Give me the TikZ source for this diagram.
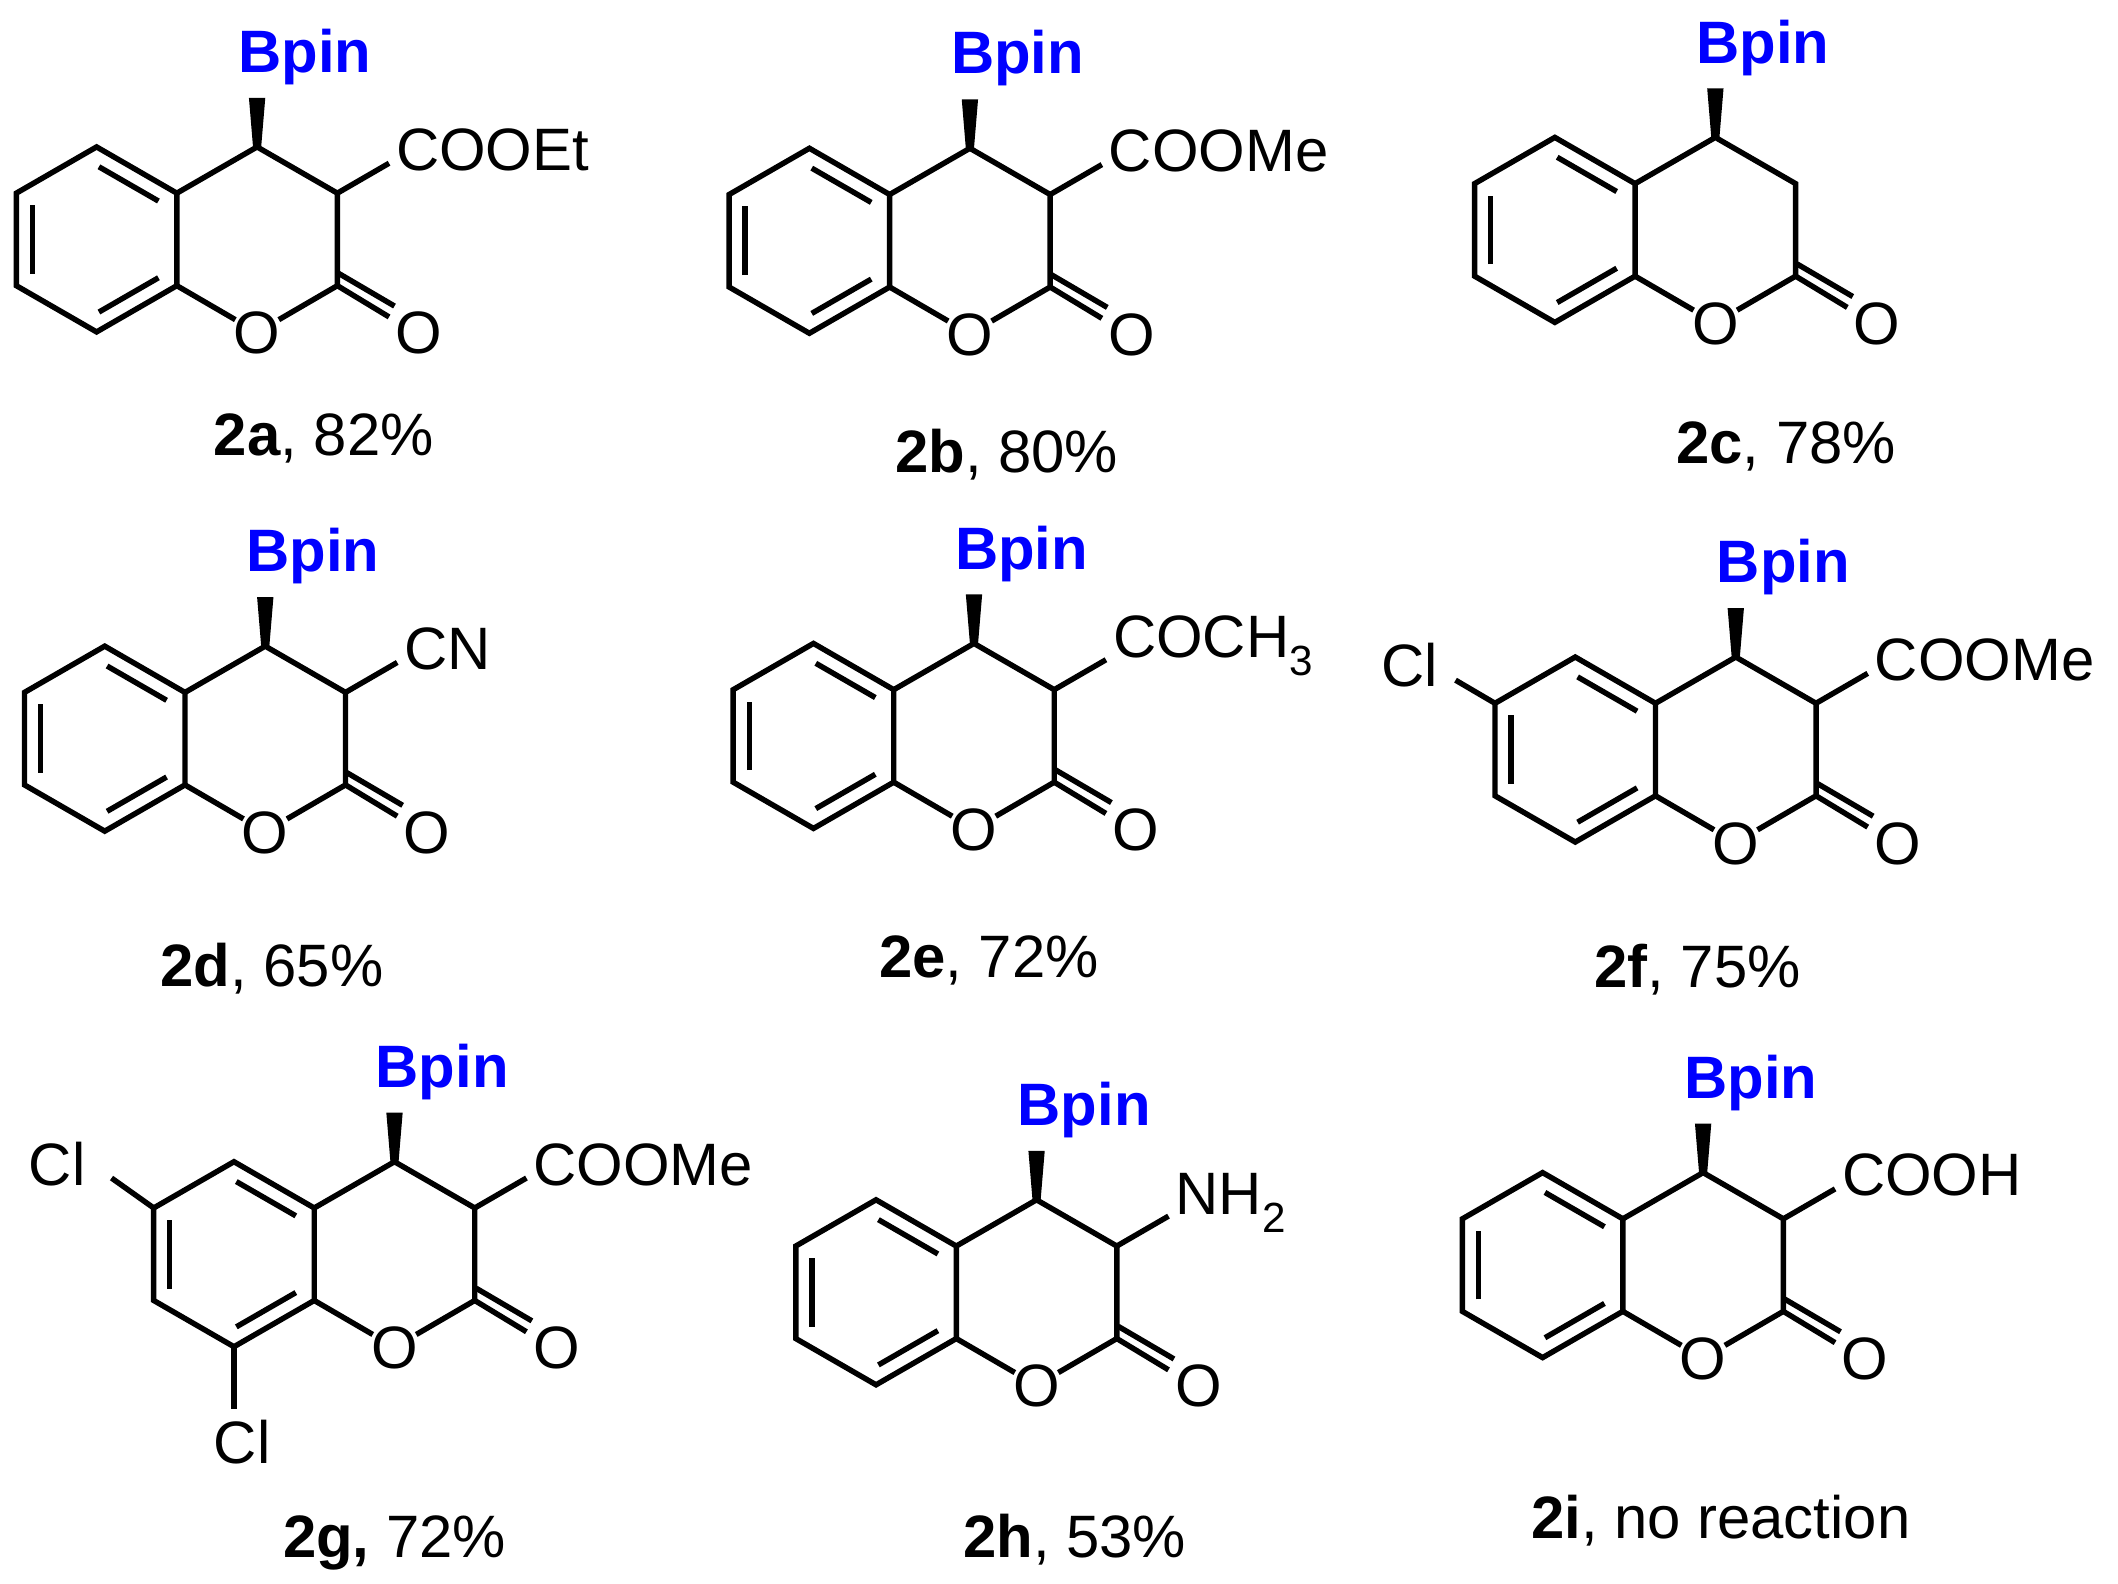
\documentclass[tikz,border=0pt]{standalone}
\usepackage{fontspec}
\setmainfont{Liberation Sans}
\usetikzlibrary{calc}
\definecolor{bpblue}{RGB}{0,0,255}
\tikzset{
  bond/.style={line width=4pt,line cap=butt,line join=miter},
  inner/.style={line width=4pt,shorten <=2pt,shorten >=2pt},
  atom/.style={inner sep=0pt,font=\fontsize{44}{44}\selectfont},
  bp/.style={inner sep=0pt,text=bpblue,font=\fontsize{44}{44}\selectfont\bfseries},
  txt/.style={inner sep=0pt,font=\fontsize{44}{44}\selectfont},
}
\newcommand\subs[1]{\raisebox{-0.3em}{\fontsize{31}{31}\selectfont #1}}
% #1 name, #2 x, #3 y
\newcommand\chrom[3]{%
\begin{scope}[shift={(#2,#3)}]
\coordinate (#1T) at (0,-68); \coordinate (#1UR) at (59,-34);
\coordinate (#1LR) at (59,34); \coordinate (#1B) at (0,68);
\coordinate (#1LL) at (-59,34); \coordinate (#1UL) at (-59,-34);
\coordinate (#1C4) at (118,-68); \coordinate (#1C3) at (177,-34);
\coordinate (#1C2) at (177,34);
\draw[bond] (#1UR)--(#1T)--(#1UL)--(#1LL)--(#1B)--(#1LR)--cycle;
\draw[inner] (0,-54.4)--(47.2,-27.2);
\draw[inner] (47.2,27.2)--(0,54.4);
\draw[inner] (-47.2,27.2)--(-47.2,-27.2);
\draw[bond] (#1UR)--(#1C4)--(#1C3)--(#1C2)--(134,59);
\draw[bond] (#1LR)--(102,59);
\fill (115,-68) -- (121,-68) -- (124,-104) -- (112,-104) -- cycle;
\node[bp] (#1bpin) at (153,-134) {Bpin};
\node[atom] (#1O) at (118,69) {O};
\node[atom] (#1Oc) at (237,69) {O};
\draw[bond] (#1C2) -- (215,57);
\draw[bond] (178,25) -- (219,49);
\end{scope}}
% substituent: #1 name, #2 x, #3 y (ring origin), #4 text
\newcommand\subst[4]{%
\begin{scope}[shift={(#2,#3)}]
\coordinate (#1S) at (215,-56);
\draw[bond] (#1C3) -- (#1S);
\node[txt,anchor=west] (#1sub) at (220,-66) {#4};
\end{scope}}
\begin{document}
\begin{tikzpicture}[x=1pt,y=-1pt]
\useasboundingbox (0,0) rectangle (1557,1164);
\fill[white] (0,0) rectangle (1557,1164);
% row 1
\chrom{a}{71}{176}\subst{a}{71}{176}{COOEt}
\node[txt] (la) at (238,322) {\textbf{2a}, 82\%};
\chrom{b}{595}{177}\subst{b}{595}{177}{COOMe}
\node[txt] (lb) at (740,334) {\textbf{2b}, 80\%};
\chrom{c}{1143}{169}
\node[txt] (lc) at (1313,328) {\textbf{2c}, 78\%};
% row 2
\chrom{d}{77}{543}\subst{d}{77}{543}{CN}
\node[txt] (ld) at (200,712) {\textbf{2d}, 65\%};
\chrom{e}{598}{541}\subst{e}{598}{541}{COCH\subs{3}}
\node[txt] (le) at (727,706) {\textbf{2e}, 72\%};
\chrom{f}{1158}{551}\subst{f}{1158}{551}{COOMe}
\node[txt] (lf) at (1248,713) {\textbf{2f}, 75\%};
\coordinate (fcl) at (1070,500);
\draw[bond] (fUL) -- (fcl);
\node[txt] (fCl) at (1036,489) {Cl};
% row 3
\chrom{g}{172}{922}\subst{g}{172}{922}{COOMe}
\node[txt] (lg) at (290,1134) {\textbf{2g,} 72\%};
\coordinate (gcl1) at (82,866);
\draw[bond] (gUL) -- (gcl1);
\node[txt] (gCl1) at (42,856) {Cl};
\coordinate (gcl2) at (172,1036);
\draw[bond] (gB) -- (gcl2);
\node[txt] (gCl2) at (178,1060) {Cl};
\chrom{h}{644}{950}\subst{h}{644}{950}{NH\subs{2}}
\node[txt] (lh) at (790,1132) {\textbf{2h}, 53\%};
\chrom{i}{1134}{930}\subst{i}{1134}{930}{COOH}
\node[txt] (li) at (1265,1118) {\textbf{2i}, no reaction};
\end{tikzpicture}
\end{document}
